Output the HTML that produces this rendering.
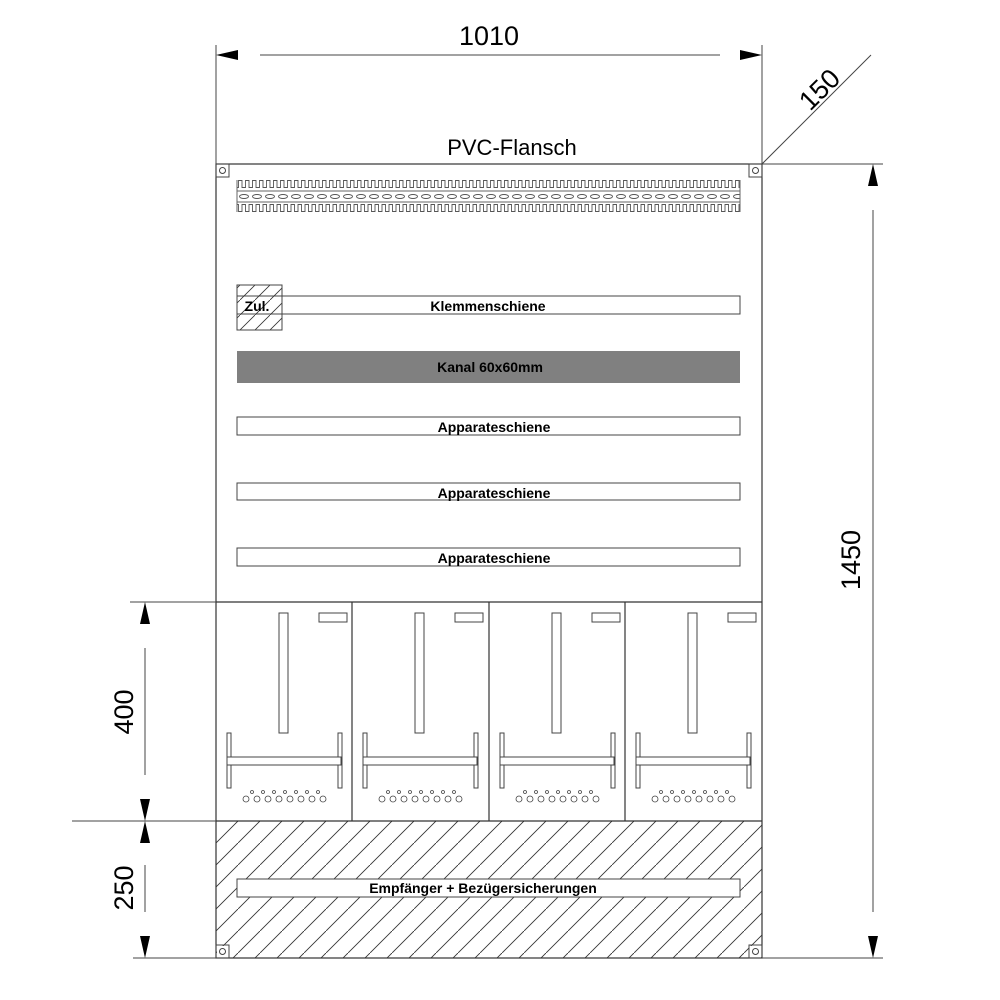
<!DOCTYPE html>
<html><head><meta charset="utf-8"><style>
html,body{margin:0;padding:0;background:#fff;width:1000px;height:1000px;overflow:hidden}
text{font-family:"Liberation Sans",sans-serif;fill:#000}
</style></head><body>
<svg width="1000" height="1000" viewBox="0 0 1000 1000" xmlns="http://www.w3.org/2000/svg">
<defs>
<pattern id="hatch" patternUnits="userSpaceOnUse" x="216" y="821" width="22" height="22">
<line x1="-1" y1="23" x2="23" y2="-1" stroke="#333" stroke-width="0.9"/>
</pattern>
<pattern id="hatch2" patternUnits="userSpaceOnUse" width="15" height="15">
<line x1="-1" y1="16" x2="16" y2="-1" stroke="#333" stroke-width="0.8"/>
</pattern>
<pattern id="teethT" patternUnits="userSpaceOnUse" x="237" y="180" width="7" height="8">
<path d="M0,7.5 H1.5 V0.5 H5 V7.5 H7" fill="none" stroke="#555" stroke-width="0.9"/>
</pattern>
<pattern id="teethB" patternUnits="userSpaceOnUse" x="237" y="204" width="7" height="8">
<path d="M0,0.5 H1.5 V7.5 H5 V0.5 H7" fill="none" stroke="#555" stroke-width="0.9"/>
</pattern>
<pattern id="holes" patternUnits="userSpaceOnUse" x="238" y="191" width="13" height="11">
<ellipse cx="6" cy="5.5" rx="4.5" ry="2" fill="none" stroke="#555" stroke-width="0.9"/>
</pattern>
<g id="meter" fill="none" stroke="#444" stroke-width="1">
<rect x="63" y="11" width="9" height="120"/>
<rect x="103" y="11" width="28" height="9"/>
<rect x="11" y="131" width="4" height="55"/>
<rect x="122" y="131" width="4" height="55"/>
<rect x="11" y="155" width="114" height="8" fill="#fff"/>
<g stroke-width="0.8">
<circle cx="36" cy="190" r="1.5"/><circle cx="47" cy="190" r="1.5"/><circle cx="58" cy="190" r="1.5"/><circle cx="69" cy="190" r="1.5"/><circle cx="80" cy="190" r="1.5"/><circle cx="91" cy="190" r="1.5"/><circle cx="102" cy="190" r="1.5"/>
<circle cx="30" cy="197" r="3"/><circle cx="41" cy="197" r="3"/><circle cx="52" cy="197" r="3"/><circle cx="63" cy="197" r="3"/><circle cx="74" cy="197" r="3"/><circle cx="85" cy="197" r="3"/><circle cx="96" cy="197" r="3"/><circle cx="107" cy="197" r="3"/>
</g>
</g>
<g id="screw" fill="none" stroke="#444" stroke-width="1"><rect x="0" y="0" width="13" height="13"/><circle cx="6.5" cy="6.5" r="3"/></g>
</defs>

<rect x="216" y="821" width="546" height="137" fill="url(#hatch)"/>
<g fill="none" stroke="#333" stroke-width="1.2">
<rect x="216" y="164" width="546" height="794"/>
<line x1="216" y1="602" x2="762" y2="602"/>
<line x1="216" y1="821" x2="762" y2="821"/>
<line x1="352" y1="602" x2="352" y2="821"/>
<line x1="489" y1="602" x2="489" y2="821"/>
<line x1="625" y1="602" x2="625" y2="821"/>
</g>
<rect x="217" y="946" width="12" height="11" fill="#fff"/><rect x="749" y="946" width="12" height="11" fill="#fff"/>
<use href="#screw" x="216" y="164"/><use href="#screw" x="749" y="164"/>
<use href="#screw" x="216" y="945"/><use href="#screw" x="749" y="945"/>

<rect x="237" y="180" width="503" height="8" fill="url(#teethT)"/>
<rect x="237" y="204" width="503" height="8" fill="url(#teethB)"/>
<rect x="237" y="191" width="503" height="11" fill="url(#holes)"/>
<line x1="237" y1="191" x2="740" y2="191" stroke="#666"/>
<line x1="237" y1="202" x2="740" y2="202" stroke="#666"/>
<line x1="237" y1="180" x2="237" y2="212" stroke="#666"/>
<line x1="740" y1="180" x2="740" y2="212" stroke="#666"/>

<g fill="#fff" stroke="#444" stroke-width="1">
<rect x="237" y="296" width="503" height="18"/>
<rect x="237" y="417" width="503" height="18"/>
<rect x="237" y="483" width="503" height="17"/>
<rect x="237" y="548" width="503" height="18"/>
<rect x="237" y="879" width="503" height="18"/>
</g>
<rect x="237" y="285" width="45" height="45" fill="url(#hatch2)" stroke="#444"/>
<rect x="237" y="351" width="503" height="32" fill="#808080"/>
<g font-size="14" font-weight="bold" text-anchor="middle">
<text x="488" y="311">Klemmenschiene</text>
<text x="490" y="372">Kanal 60x60mm</text>
<text x="494" y="432">Apparateschiene</text>
<text x="494" y="498">Apparateschiene</text>
<text x="494" y="563">Apparateschiene</text>
<text x="483" y="893">Empfänger + Bezügersicherungen</text>
<text x="257" y="311" font-size="14">Zul.</text>
</g>

<use href="#meter" x="216" y="602"/>
<use href="#meter" x="352" y="602"/>
<use href="#meter" x="489" y="602"/>
<use href="#meter" x="625" y="602"/>

<g stroke="#444" stroke-width="1" fill="none">
<line x1="216" y1="45" x2="216" y2="164"/>
<line x1="762" y1="45" x2="762" y2="164"/>
<line x1="260" y1="55" x2="720" y2="55"/>
<line x1="762" y1="164" x2="871" y2="55"/>
<line x1="762" y1="164" x2="883" y2="164"/>
<line x1="762" y1="958" x2="883" y2="958"/>
<line x1="873" y1="210" x2="873" y2="912"/>
<line x1="130" y1="602" x2="216" y2="602"/>
<line x1="72" y1="821" x2="216" y2="821"/>
<line x1="133" y1="958" x2="216" y2="958"/>
<line x1="145" y1="648" x2="145" y2="775"/>
<line x1="145" y1="865" x2="145" y2="912"/>
</g>
<g fill="#000">
<polygon points="216,55 238,50 238,60"/>
<polygon points="762,55 740,50 740,60"/>
<polygon points="873,164 868,186 878,186"/>
<polygon points="873,958 868,936 878,936"/>
<polygon points="145,602 140,624 150,624"/>
<polygon points="145,821 140,799 150,799"/>
<polygon points="145,821 140,843 150,843"/>
<polygon points="145,958 140,936 150,936"/>
</g>
<g font-size="27" text-anchor="middle">
<text x="489" y="45">1010</text>
<text x="512" y="155" font-size="22">PVC-Flansch</text>
<text transform="translate(826,96) rotate(-45)">150</text>
<text transform="translate(860,560) rotate(-90)">1450</text>
<text transform="translate(133,712) rotate(-90)">400</text>
<text transform="translate(133,888) rotate(-90)">250</text>
</g>
</svg>
</body></html>
